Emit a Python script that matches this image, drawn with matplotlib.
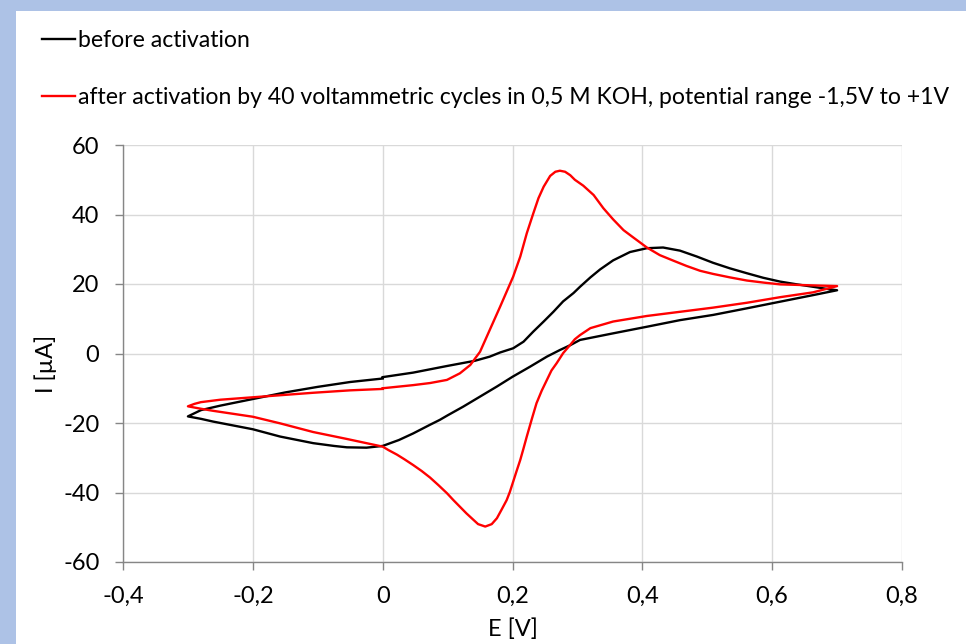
import matplotlib
matplotlib.use("Agg")
import matplotlib.pyplot as plt
from matplotlib.patches import Rectangle
from matplotlib.ticker import FuncFormatter

plt.rcParams['font.family'] = ['Lato', 'DejaVu Sans']

# cyclic voltammogram before activation (start at 0 V, anodic first)
e_before = [0.0, 0.047, 0.099, 0.142, 0.165, 0.181, 0.201, 0.217, 0.232, 0.248, 0.263, 0.278,
            0.294, 0.304, 0.32, 0.335, 0.355, 0.381, 0.407, 0.432, 0.458, 0.484, 0.509, 0.535,
            0.561, 0.586, 0.612, 0.638, 0.663, 0.684, 0.70,
            0.663, 0.612, 0.561, 0.509, 0.458, 0.407, 0.355, 0.304, 0.289, 0.273, 0.253, 0.227,
            0.2, 0.176, 0.15, 0.124, 0.1, 0.088, 0.073, 0.047, 0.025, 0.0, -0.025, -0.055,
            -0.075, -0.107, -0.158, -0.2, -0.261, -0.28, -0.3,
            -0.28, -0.25, -0.2, -0.15, -0.1, -0.05, 0.0]
i_before = [-6.8, -5.5, -3.6, -2.1, -0.9, 0.3, 1.5, 3.4, 6.3, 9.2, 12.0, 15.0,
            17.4, 19.2, 21.9, 24.2, 26.8, 29.2, 30.3, 30.5, 29.6, 27.9, 26.1, 24.5,
            23.1, 21.8, 20.7, 19.9, 19.2, 18.6, 18.2,
            16.8, 14.9, 13.0, 11.1, 9.6, 7.7, 5.8, 3.9, 2.4, 1.0, -0.9, -3.8,
            -6.7, -9.5, -12.4, -15.3, -17.8, -19.1, -20.5, -23.0, -24.9, -26.6, -27.1, -27.0,
            -26.6, -25.8, -23.9, -21.8, -19.6, -18.8, -18.1,
            -16.3, -15.0, -13.1, -11.2, -9.6, -8.2, -7.2]

# cyclic voltammogram after activation
e_after = [0.0, 0.047, 0.073, 0.099, 0.119, 0.135, 0.15, 0.165, 0.181, 0.201, 0.212, 0.222,
           0.232, 0.24, 0.248, 0.258, 0.266, 0.273, 0.281, 0.289, 0.296, 0.309, 0.325, 0.34,
           0.355, 0.371, 0.386, 0.407, 0.427, 0.448, 0.468, 0.489, 0.509, 0.535, 0.561, 0.587,
           0.612, 0.663, 0.70,
           0.663, 0.612, 0.561, 0.509, 0.458, 0.407, 0.355, 0.32, 0.304, 0.296, 0.289, 0.278,
           0.268, 0.26, 0.253, 0.245, 0.237, 0.23, 0.222, 0.217, 0.212, 0.206, 0.201, 0.196,
           0.191, 0.183, 0.176, 0.168, 0.158, 0.147, 0.14, 0.129, 0.119, 0.109, 0.099, 0.086,
           0.073, 0.06, 0.047, 0.034, 0.022, 0.009, 0.0, -0.055, -0.107, -0.158, -0.2, -0.261,
           -0.28, -0.3,
           -0.29, -0.28, -0.25, -0.2, -0.15, -0.107, -0.05, 0.0]
i_after = [-10.0, -9.1, -8.5, -7.6, -5.7, -3.3, 0.5, 6.8, 13.5, 22.1, 27.9, 34.6,
           40.3, 44.7, 48.0, 51.1, 52.3, 52.6, 52.3, 51.3, 50.0, 48.3, 45.6, 41.8,
           38.6, 35.5, 33.4, 30.5, 28.3, 26.7, 25.2, 23.8, 22.9, 21.9, 21.0, 20.4,
           19.9, 19.6, 19.4,
           17.6, 16.2, 14.6, 13.2, 12.0, 10.8, 9.2, 7.3, 5.3, 4.1, 2.5, 0.1,
           -2.8, -4.9, -7.6, -10.7, -14.3, -18.7, -23.9, -27.3, -30.6, -34.0, -36.9, -39.8,
           -42.2, -45.0, -47.4, -49.1, -49.8, -49.1, -47.9, -46.0, -44.1, -42.2, -40.2, -37.9,
           -35.7, -33.8, -32.1, -30.5, -29.1, -27.8, -26.8, -24.6, -22.6, -20.1, -18.2, -16.5,
           -15.9, -15.2,
           -14.5, -14.0, -13.3, -12.6, -11.9, -11.3, -10.6, -10.2]

x_ticks = [-0.4, -0.2, 0, 0.2, 0.4, 0.6, 0.8]
y_ticks = [-60, -40, -20, 0, 20, 40, 60]

label_before = 'before activation'
label_after = 'after activation by 40 voltammetric cycles in 0,5 M KOH, potential range -1,5V to +1V'

fig = plt.figure(figsize=(9.66, 6.44), dpi=100)
fig.patch.set_facecolor('#adc2e6')
# white slide area
fig.add_artist(Rectangle((16 / 966, 0), 1, 1 - 11 / 644, transform=fig.transFigure,
                         facecolor='white', edgecolor='none', zorder=0))

ax = fig.add_axes([123 / 966, 1 - 562 / 644, 779 / 966, 417 / 644])
ax.set_facecolor('none')

ax.plot(e_before, i_before, color='black', lw=1.7, label=label_before,
        solid_joinstyle='round')
ax.plot(e_after, i_after, color='#ff0000', lw=1.7, label=label_after,
        solid_joinstyle='round')

ax.set_xlim(-0.4, 0.8)
ax.set_ylim(-60, 60)
ax.set_xticks(x_ticks)
ax.set_yticks(y_ticks)
comma = FuncFormatter(lambda v, p: ('%g' % v).replace('.', ','))
ax.xaxis.set_major_formatter(comma)
ax.yaxis.set_major_formatter(FuncFormatter(lambda v, p: '%d' % v))
ax.grid(True, color='#d9d9d9', lw=1)
ax.set_axisbelow(True)
for s in ['top', 'right']:
    ax.spines[s].set_visible(False)
for s in ['left', 'bottom']:
    ax.spines[s].set_color('#868686')
    ax.spines[s].set_linewidth(1)
ax.tick_params(direction='out', length=6, width=1, color='#868686', labelsize=17)
ax.tick_params(axis='y', pad=11)
ax.tick_params(axis='x', pad=11)

ax.set_xlabel('E [V]', fontsize=17)
ax.set_ylabel('I [µA]', fontsize=17)
ax.xaxis.set_label_coords(0.5, -0.134)
ax.yaxis.set_label_coords(-0.085, 0.475)

fig.legend(loc='upper left', bbox_to_anchor=(42 / 966, 1 - 30 / 644), frameon=False,
           fontsize=16.6, handlelength=1.43, handletextpad=0.13, labelspacing=1.55,
           borderaxespad=0, borderpad=0)

fig.savefig('out.png', dpi=100)
